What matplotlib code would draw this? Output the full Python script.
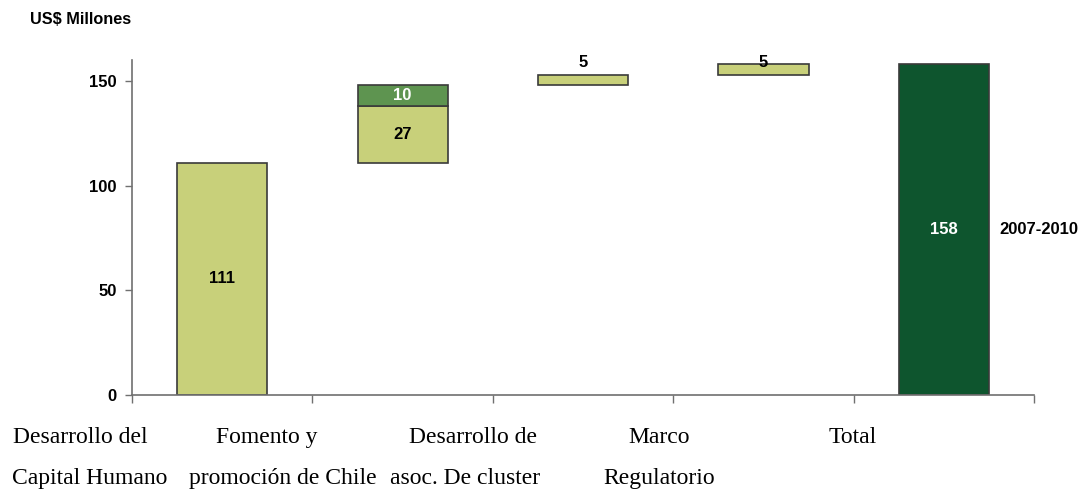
import numpy as np
import matplotlib.pyplot as plt

# Waterfall data (US$ millones)
step_labels = ["111", "27", "10", "5", "5"]
step_values = [111, 27, 10, 5, 5]
step_slot = [0, 1, 1, 2, 3]
step_colors = ["#C8D07A", "#C8D07A", "#5E9450", "#C8D07A", "#C8D07A"]
total_value = sum(step_values)
total_label = "2007-2010"
cat_line1 = ["Desarrollo del", "Fomento y", "Desarrollo de", "Marco", "Total"]
cat_line2 = ["Capital Humano", "promoción de Chile", "asoc. De cluster", "Regulatorio", ""]

fig = plt.figure(figsize=(10.79, 4.9), dpi=100)
ax = fig.add_axes([132 / 1079, 95 / 490, 902 / 1079, 335 / 490])

edge = "#3a3a3a"
bw = 0.5
lab_kw = dict(fontsize=12, fontweight="bold", family="Liberation Sans")
base = 0
for v, s, c, lab in zip(step_values, step_slot, step_colors, step_labels):
    ax.bar(s + 0.5, v, bottom=base, width=bw, color=c, edgecolor=edge, linewidth=1.2)
    if v >= 10:
        ax.text(s + 0.5, base + v / 2, lab, ha="center", va="center",
                color="white" if c == "#5E9450" else "black", **lab_kw)
    else:
        ax.text(s + 0.5, 159, lab, ha="center", va="center", color="black", **lab_kw)
    base += v

ax.bar(4.5, total_value, width=bw, color="#0E552E", edgecolor=edge, linewidth=1.2)
ax.text(4.5, total_value / 2, str(total_value), ha="center", va="center",
        color="white", **lab_kw)
ax.text(4.81, total_value / 2, total_label, ha="left", va="center",
        color="black", clip_on=False, **lab_kw)

ax.set_xlim(0, 5)
ax.set_ylim(0, 160)
ax.set_yticks([0, 50, 100, 150])
ax.set_xticks(np.arange(0, 6))
ax.set_xticklabels([])
for lbl in ax.get_yticklabels():
    lbl.set_fontweight("bold")
    lbl.set_family("Liberation Sans")
    lbl.set_fontsize(12)
ax.tick_params(axis="y", length=5, width=1, color="#707070", pad=6)
ax.tick_params(axis="x", length=6, width=1, color="#707070")
for sp in ["top", "right"]:
    ax.spines[sp].set_visible(False)
for sp in ["left", "bottom"]:
    ax.spines[sp].set_color("#707070")
    ax.spines[sp].set_linewidth(1.2)

fig.text(30 / 1079, 1 - 19 / 490, "US$ Millones", ha="left", va="center",
         fontsize=11.7, fontweight="bold", family="Liberation Sans")

centers1 = [80, 267, 473, 659, 853]
centers2 = [90, 283, 465, 659, 853]
for x1, x2, t1, t2 in zip(centers1, centers2, cat_line1, cat_line2):
    fig.text(x1 / 1079, 1 - 437 / 490, t1, ha="center", va="center",
             fontsize=17, family="Liberation Serif")
    if t2:
        fig.text(x2 / 1079, 1 - 478 / 490, t2, ha="center", va="center",
                 fontsize=17, family="Liberation Serif")

fig.savefig("out.png", dpi=100)
